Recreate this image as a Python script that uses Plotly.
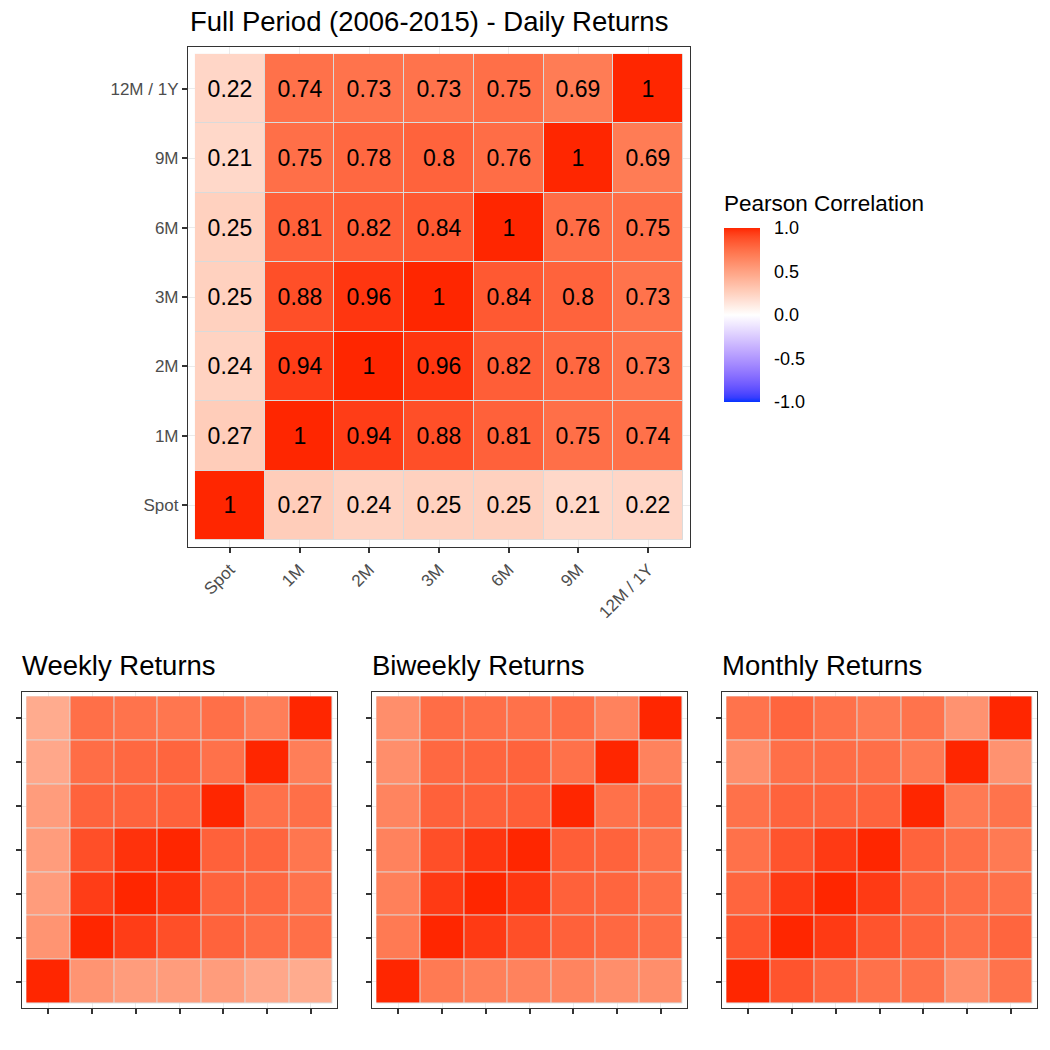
import numpy as np
import plotly.graph_objects as go

labels = ["Spot", "1M", "2M", "3M", "6M", "9M", "12M / 1Y"]

daily = [
    [1, 0.27, 0.24, 0.25, 0.25, 0.21, 0.22],
    [0.27, 1, 0.94, 0.88, 0.81, 0.75, 0.74],
    [0.24, 0.94, 1, 0.96, 0.82, 0.78, 0.73],
    [0.25, 0.88, 0.96, 1, 0.84, 0.8, 0.73],
    [0.25, 0.81, 0.82, 0.84, 1, 0.76, 0.75],
    [0.21, 0.75, 0.78, 0.8, 0.76, 1, 0.69],
    [0.22, 0.74, 0.73, 0.73, 0.75, 0.69, 1],
]
weekly = [
    [1, 0.57, 0.53, 0.53, 0.53, 0.47, 0.45],
    [0.57, 1, 0.94, 0.88, 0.80, 0.76, 0.75],
    [0.53, 0.94, 1, 0.97, 0.80, 0.78, 0.73],
    [0.53, 0.88, 0.97, 1, 0.81, 0.79, 0.72],
    [0.53, 0.80, 0.80, 0.81, 1, 0.74, 0.75],
    [0.47, 0.76, 0.78, 0.79, 0.74, 1, 0.68],
    [0.45, 0.75, 0.73, 0.72, 0.75, 0.68, 1],
]
biweekly = [
    [1, 0.70, 0.67, 0.66, 0.65, 0.60, 0.60],
    [0.70, 1, 0.95, 0.88, 0.81, 0.78, 0.76],
    [0.67, 0.95, 1, 0.96, 0.81, 0.79, 0.75],
    [0.66, 0.88, 0.96, 1, 0.82, 0.80, 0.74],
    [0.65, 0.81, 0.81, 0.82, 1, 0.74, 0.76],
    [0.60, 0.78, 0.79, 0.80, 0.74, 1, 0.66],
    [0.60, 0.76, 0.75, 0.74, 0.76, 0.66, 1],
]
monthly = [
    [1, 0.86, 0.79, 0.74, 0.74, 0.60, 0.73],
    [0.86, 1, 0.95, 0.86, 0.80, 0.75, 0.79],
    [0.79, 0.95, 1, 0.95, 0.80, 0.76, 0.74],
    [0.74, 0.86, 0.95, 1, 0.80, 0.75, 0.70],
    [0.74, 0.80, 0.80, 0.80, 1, 0.70, 0.73],
    [0.60, 0.75, 0.76, 0.75, 0.70, 1, 0.58],
    [0.73, 0.79, 0.74, 0.70, 0.73, 0.58, 1],
]

main_title = "Full Period (2006-2015) - Daily Returns"
sub_titles = ["Weekly Returns", "Biweekly Returns", "Monthly Returns"]
legend_title = "Pearson Correlation"
legend_ticks = [-1, -0.5, 0, 0.5, 1]
legend_ticktext = ["-1.0", "-0.5", "0.0", "0.5", "1.0"]

# ---- Lab-interpolated diverging colour scale (like scale_fill_gradient2) ----
M = np.array([[0.4124564, 0.3575761, 0.1804375],
              [0.2126729, 0.7151522, 0.0721750],
              [0.0193339, 0.1191920, 0.9503041]])
WHITE = M @ np.ones(3)


def to_lab(rgb):
    c = np.array(rgb) / 255.0
    c = np.where(c <= 0.04045, c / 12.92, ((c + 0.055) / 1.055) ** 2.4)
    xyz = M @ c / WHITE
    f = np.where(xyz > (6 / 29) ** 3, np.cbrt(xyz), xyz / (3 * (6 / 29) ** 2) + 4 / 29)
    return np.array([116 * f[1] - 16, 500 * (f[0] - f[1]), 200 * (f[1] - f[2])])


def from_lab(lab):
    L, a, b = lab
    fy = (L + 16) / 116
    fx = fy + a / 500
    fz = fy - b / 200
    f = np.array([fx, fy, fz])
    xyz = np.where(f > 6 / 29, f ** 3, 3 * (6 / 29) ** 2 * (f - 4 / 29)) * WHITE
    c = np.linalg.solve(M, xyz)
    c = np.clip(c, 0, 1)
    c = np.where(c <= 0.0031308, 12.92 * c, 1.055 * c ** (1 / 2.4) - 0.055)
    c = np.clip(np.round(c * 255), 0, 255).astype(int)
    return "rgb(%d,%d,%d)" % tuple(c)


lab_low = to_lab((4, 51, 255))
lab_mid = to_lab((255, 255, 255))
lab_high = to_lab((255, 38, 0))
cscale = []
n = 20
for i in range(n + 1):
    t = i / n
    cscale.append([t / 2, from_lab(lab_low + (lab_mid - lab_low) * t)])
for i in range(1, n + 1):
    t = i / n
    cscale.append([0.5 + t / 2, from_lab(lab_mid + (lab_high - lab_mid) * t)])

FONT = "Liberation Sans, Arial, Helvetica, sans-serif"
W = 1050.0


def px_x(p):
    return p / W


def px_y(p):
    return 1 - p / W


panels = [
    dict(z=daily, xd=(188, 690), yd=(47, 547), labels=True, text=True),
    dict(z=weekly, xd=(22, 337), yd=(692, 1008), labels=False, text=False),
    dict(z=biweekly, xd=(372, 687), yd=(692, 1008), labels=False, text=False),
    dict(z=monthly, xd=(722, 1037), yd=(692, 1008), labels=False, text=False),
]

fig = go.Figure()
layout = {}
for i, p in enumerate(panels):
    s = "" if i == 0 else str(i + 1)
    xa, ya = "x" + s, "y" + s
    # tile border layer
    fig.add_trace(go.Heatmap(
        x=labels, y=labels, z=np.ones((7, 7)).tolist(), xaxis=xa, yaxis=ya,
        colorscale=[[0, "#dadada"], [1, "#dadada"]], showscale=False,
        hoverinfo="skip"))
    txt = [[f"{v:g}" for v in row] for row in p["z"]]
    fig.add_trace(go.Heatmap(
        x=labels, y=labels, z=p["z"], xaxis=xa, yaxis=ya,
        coloraxis="coloraxis", xgap=1, ygap=1,
        text=txt, texttemplate="%{text}" if p["text"] else "",
        textfont=dict(size=23, color="black", family=FONT)))
    common = dict(
        type="category", range=[-0.6, 6.6], showline=True, mirror=True,
        linecolor="#333333", linewidth=1.2, ticks="outside", ticklen=5,
        tickwidth=1.5, tickcolor="#333333", showgrid=True, gridcolor="#EBEBEB",
        gridwidth=1, zeroline=False, showticklabels=p["labels"],
        tickfont=dict(size=17, color="#4D4D4D", family=FONT), fixedrange=True)
    layout["xaxis" + s] = dict(common, domain=[px_x(p["xd"][0]), px_x(p["xd"][1])],
                               anchor=ya, tickangle=-45)
    layout["yaxis" + s] = dict(common, domain=[px_y(p["yd"][1]), px_y(p["yd"][0])],
                               anchor=xa)

annotations = [dict(text=main_title, x=px_x(188), y=px_y(22), xref="paper", yref="paper",
                    xanchor="left", yanchor="middle", showarrow=False,
                    font=dict(size=27.5, color="black", family=FONT))]
for t, p in zip(sub_titles, panels[1:]):
    annotations.append(dict(text=t, x=px_x(p["xd"][0] - 2), y=px_y(666), xref="paper",
                            yref="paper", xanchor="left", yanchor="middle",
                            showarrow=False, font=dict(size=27.5, color="black", family=FONT)))
annotations.append(dict(text=legend_title, x=px_x(722), y=px_y(203), xref="paper",
                        yref="paper", xanchor="left", yanchor="middle", showarrow=False,
                        font=dict(size=22.5, color="black", family=FONT)))

fig.update_layout(
    width=1050, height=1050, margin=dict(l=0, r=0, t=0, b=0),
    paper_bgcolor="white", plot_bgcolor="white", showlegend=False,
    font=dict(family=FONT),
    coloraxis=dict(
        colorscale=cscale, cmin=-1, cmax=1,
        colorbar=dict(
            x=px_x(724), xanchor="left", y=px_y(315), yanchor="middle",
            thickness=36, thicknessmode="pixels", len=174, lenmode="pixels",
            xpad=0, ypad=0, outlinewidth=0,
            tickvals=legend_ticks, ticktext=legend_ticktext,
            ticks="outside", ticklen=11, tickwidth=1, tickcolor="white",
            tickfont=dict(size=18, color="black", family=FONT))),
    annotations=annotations,
    **layout)

fig.write_html("out.html")
